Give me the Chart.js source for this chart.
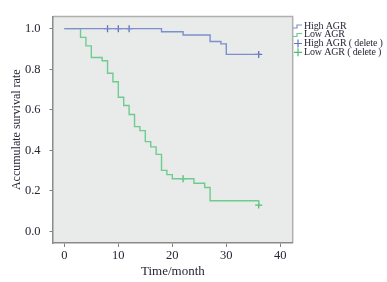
<!DOCTYPE html>
<html>
<head>
<meta charset="utf-8">
<script src="https://cdn.jsdelivr.net/npm/chart.js@4"></script>
<style>
  html, body { margin: 0; padding: 0; background: #fff; }
  canvas { display: block; }
</style>
</head>
<body>
<canvas id="myChart" width="387" height="282"></canvas>
<script>
// DATA
const highTimes = [0, 18, 22, 27, 29, 30, 36];
const highSurv = [1.0, 0.985, 0.969, 0.937, 0.925, 0.873, 0.873];
const highCensorTimes = [8, 10, 12, 36];
const highCensorSurv = [1.0, 1.0, 1.0, 0.873];

const lowTimes = [0, 3, 4, 5, 7, 8, 9, 10, 11, 12, 13, 14, 15, 16, 17, 18, 19, 20, 24, 26, 27, 36];
const lowSurv = [1.0, 0.957, 0.915, 0.858, 0.842, 0.78, 0.738, 0.662, 0.621, 0.577, 0.517, 0.497,
  0.443, 0.417, 0.38, 0.301, 0.28, 0.26, 0.238, 0.217, 0.151, 0.13];
const lowCensorTimes = [22, 36];
const lowCensorSurv = [0.26, 0.13];

const seriesLabels = ["High AGR", "Low AGR", "High AGR ( delete )", "Low AGR ( delete )"];
const xTickValues = [0, 10, 20, 30, 40];
const yTickValues = [0, 0.2, 0.4, 0.6, 0.8, 1.0];

const toPoints = (xs, ys) => xs.map((x, i) => ({ x: x, y: ys[i] }));

const blue = "#7d90cc";
const green = "#6fcc8f";
const serif = "'Liberation Serif', 'DejaVu Serif', serif";
const textColor = "#262636";

// plot background and frame
const plotBg = {
  id: "plotBg",
  beforeDraw(chart) {
    const { ctx, chartArea: a } = chart;
    ctx.save();
    ctx.fillStyle = "#e9eaea";
    ctx.fillRect(a.left, a.top, a.right - a.left, a.bottom - a.top);
    ctx.strokeStyle = "#b0b0b0";
    ctx.lineWidth = 1.5;
    ctx.beginPath();
    ctx.moveTo(a.left, a.top);
    ctx.lineTo(a.right, a.top);
    ctx.lineTo(a.right, a.bottom);
    ctx.stroke();
    ctx.restore();
  }
};

// legend at right, SPSS style
const sideLegend = {
  id: "sideLegend",
  afterDraw(chart) {
    const { ctx } = chart;
    const x0 = 293;
    const rows = [26, 34.5, 43.5, 52.3];
    ctx.save();
    ctx.font = "10px " + serif;
    ctx.letterSpacing = "-0.15px";
    ctx.textBaseline = "middle";
    chart.data.datasets.forEach((ds, i) => {
      const y = rows[i];
      ctx.strokeStyle = ds.borderColor;
      ctx.lineWidth = 1.2;
      ctx.beginPath();
      if (ds.showLine === false) {
        ctx.moveTo(x0 + 1, y);
        ctx.lineTo(x0 + 9, y);
        ctx.moveTo(x0 + 5, y - 4);
        ctx.lineTo(x0 + 5, y + 4);
      } else {
        ctx.moveTo(x0, y + 2);
        ctx.lineTo(x0 + 4, y + 2);
        ctx.lineTo(x0 + 4, y - 1);
        ctx.lineTo(x0 + 9, y - 1);
      }
      ctx.stroke();
      ctx.fillStyle = textColor;
      ctx.fillText(ds.label, x0 + 11, y);
    });
    ctx.restore();
  }
};

const data = {
  datasets: [
    {
      label: seriesLabels[0],
      data: toPoints(highTimes, highSurv),
      borderColor: blue,
      borderWidth: 1.4,
      showLine: true,
      stepped: "before",
      pointRadius: 0
    },
    {
      label: seriesLabels[1],
      data: toPoints(lowTimes, lowSurv),
      borderColor: green,
      borderWidth: 1.4,
      showLine: true,
      stepped: "before",
      pointRadius: 0
    },
    {
      label: seriesLabels[2],
      data: toPoints(highCensorTimes, highCensorSurv),
      borderColor: "#5f73c0",
      showLine: false,
      pointStyle: "cross",
      pointRadius: 3.5,
      pointBorderWidth: 1.3
    },
    {
      label: seriesLabels[3],
      data: toPoints(lowCensorTimes, lowCensorSurv),
      borderColor: "#4cbf73",
      showLine: false,
      pointStyle: "cross",
      pointRadius: 3.5,
      pointBorderWidth: 1.3
    }
  ]
};

const config = {
  type: "scatter",
  data,
  plugins: [plotBg, sideLegend],
  options: {
    responsive: false,
    animation: false,
    devicePixelRatio: 1,
    layout: { padding: { left: 0, right: 94.3, top: 7, bottom: 0 } },
    plugins: { legend: { display: false }, tooltip: { enabled: false } },
    scales: {
      x: {
        type: "linear",
        min: -2.1,
        max: 42.3,
        afterBuildTicks: (s) => { s.ticks = xTickValues.map(v => ({ value: v })); },
        afterFit: (s) => { s.height = 39; },
        grid: { drawOnChartArea: false, drawTicks: true, tickLength: 4, color: "#808080", lineWidth: 1 },
        border: { color: "#8a8a8a", width: 1.5 },
        ticks: { color: textColor, font: { family: serif, size: 12.5 }, padding: 1, maxRotation: 0 },
        title: {
          display: true,
          text: "Time/month",
          color: textColor,
          font: { family: serif, size: 13 },
          padding: { top: 0, bottom: 2.5 }
        }
      },
      y: {
        min: -0.057,
        max: 1.06,
        afterBuildTicks: (s) => { s.ticks = yTickValues.map(v => ({ value: v })); },
        afterFit: (s) => { s.width = 53; },
        grid: { drawOnChartArea: false, drawTicks: true, tickLength: 3.5, color: "#808080", lineWidth: 1 },
        border: { color: "#8a8a8a", width: 1.5 },
        ticks: {
          color: textColor,
          font: { family: serif, size: 12.5 },
          padding: 9,
          callback: (v) => Number(v).toFixed(1)
        },
        title: {
          display: true,
          text: "Accumulate survival rate",
          color: textColor,
          font: { family: serif, size: 12 },
          padding: { top: 9.5, bottom: 0 }
        }
      }
    }
  }
};

const myChart = new Chart(document.getElementById("myChart"), config);
</script>
</body>
</html>
